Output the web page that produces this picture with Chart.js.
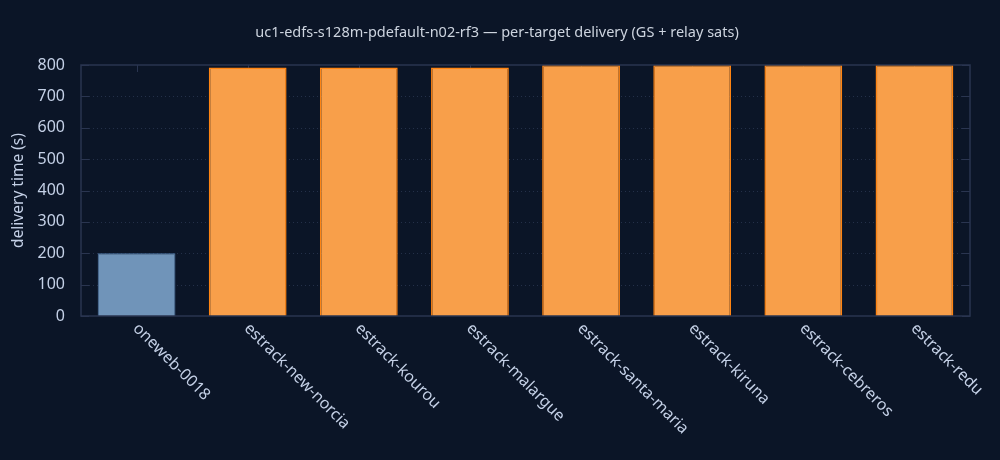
<!DOCTYPE html>
<html>
<head>
<meta charset="utf-8">
<script src="https://cdn.jsdelivr.net/npm/chart.js@4/dist/chart.umd.min.js"></script>
<style>
  html, body { margin: 0; padding: 0; background: #0b1527; }
  canvas { display: block; }
</style>
</head>
<body>
<canvas id="chartCanvas" width="1000" height="460"></canvas>
<script>
// dados
const targets = ['oneweb-0018', 'estrack-new-norcia', 'estrack-kourou', 'estrack-malargue',
                 'estrack-santa-maria', 'estrack-kiruna', 'estrack-cebreros', 'estrack-redu'];
const targetKinds = ['relay', 'gs', 'gs', 'gs', 'gs', 'gs', 'gs', 'gs'];
const deliverySeconds = [200, 792, 792, 792, 800, 800, 800, 800];
const yTickValues = [0, 100, 200, 300, 400, 500, 600, 700, 800];

const chartTitle = 'uc1-edfs-s128m-pdefault-n02-rf3 \u2014 per-target delivery (GS + relay sats)';
const yTitle = 'delivery time (s)';

const FONT = '"Noto Sans", "Open Sans", sans-serif';
const TEXT = '#c4d0e6';
const FRAME = '#2a3550';

const fillFor = { relay: '#7094b9', gs: '#f89f4a' };
const edgeFor = { relay: '#4f77a6', gs: '#ff8412' };

const framePlugin = {
    id: 'frame',
    beforeDatasetsDraw(chart) {
        const { ctx, chartArea: a, scales } = chart;
        ctx.save();
        // linhas de grade pontilhadas
        ctx.strokeStyle = '#243049';
        ctx.lineWidth = 1;
        ctx.setLineDash([1, 3]);
        yTickValues.forEach(v => {
            const y = Math.round(scales.y.getPixelForValue(v)) + 0.5;
            if (v === 0 || v === 800) return;
            ctx.beginPath();
            ctx.moveTo(a.left, y);
            ctx.lineTo(a.right, y);
            ctx.stroke();
        });
        ctx.setLineDash([]);
        // marcas para dentro
        ctx.strokeStyle = FRAME;
        yTickValues.forEach(v => {
            const y = Math.round(scales.y.getPixelForValue(v)) + 0.5;
            ctx.beginPath();
            ctx.moveTo(a.left, y); ctx.lineTo(a.left + 8, y);
            ctx.moveTo(a.right, y); ctx.lineTo(a.right - 8, y);
            ctx.stroke();
        });
        targets.forEach((t, i) => {
            const x = Math.round(scales.x.getPixelForValue(i)) + 0.5;
            ctx.beginPath();
            ctx.moveTo(x, a.top); ctx.lineTo(x, a.top + 7);
            ctx.moveTo(x, a.bottom); ctx.lineTo(x, a.bottom - 7);
            ctx.stroke();
        });
        ctx.restore();
    },
    afterDatasetsDraw(chart) {
        const { ctx, chartArea: a, scales } = chart;
        ctx.save();
        ctx.strokeStyle = FRAME;
        ctx.lineWidth = 1.5;
        ctx.strokeRect(a.left, a.top, a.right - a.left, a.bottom - a.top);

        // rótulos das categorias, girados 45°
        ctx.fillStyle = TEXT;
        ctx.font = '16px ' + FONT;
        ctx.textAlign = 'left';
        ctx.textBaseline = 'middle';
        targets.forEach((t, i) => {
            const x = scales.x.getPixelForValue(i);
            ctx.save();
            ctx.translate(x - 1, a.bottom + 10);
            ctx.rotate(Math.PI / 4);
            ctx.fillText(t, 0, 0);
            ctx.restore();
        });

        // título do eixo y
        ctx.save();
        ctx.font = '15.5px ' + FONT;
        ctx.translate(19, (a.top + a.bottom) / 2);
        ctx.rotate(-Math.PI / 2);
        ctx.textAlign = 'center';
        ctx.fillText(yTitle, 0, 0);
        ctx.restore();

        // título
        ctx.fillStyle = '#cdd4df';
        ctx.font = '14.5px ' + FONT;
        ctx.textAlign = 'center';
        ctx.fillText(chartTitle, 497, 33);
        ctx.restore();
    }
};

const ctx = document.getElementById('chartCanvas').getContext('2d');
const chart = new Chart(ctx, {
    type: 'bar',
    data: {
        labels: targets,
        datasets: [{
            label: 'delivery time (s)',
            data: deliverySeconds,
            backgroundColor: targetKinds.map(k => fillFor[k]),
            borderColor: targetKinds.map(k => edgeFor[k]),
            borderWidth: targetKinds.map(k => k === 'gs' ? 1.5 : 1),
            barPercentage: 0.7,
            categoryPercentage: 1.0
        }]
    },
    options: {
        responsive: false,
        animation: false,
        devicePixelRatio: 1,
        layout: { padding: { top: 65, right: 30, bottom: 0, left: 0 } },
        plugins: {
            legend: { display: false },
            tooltip: { enabled: false },
            title: { display: false }
        },
        scales: {
            x: {
                ticks: { display: false },
                grid: { display: false },
                border: { display: false },
                afterFit(scale) { scale.height = 144; }
            },
            y: {
                min: 0,
                max: 800,
                ticks: {
                    stepSize: 100,
                    color: TEXT,
                    padding: 8,
                    font: { family: FONT, size: 16 }
                },
                grid: { display: false },
                border: { display: false },
                afterFit(scale) { scale.width = 81; }
            }
        }
    },
    plugins: [framePlugin]
});
</script>
</body>
</html>
